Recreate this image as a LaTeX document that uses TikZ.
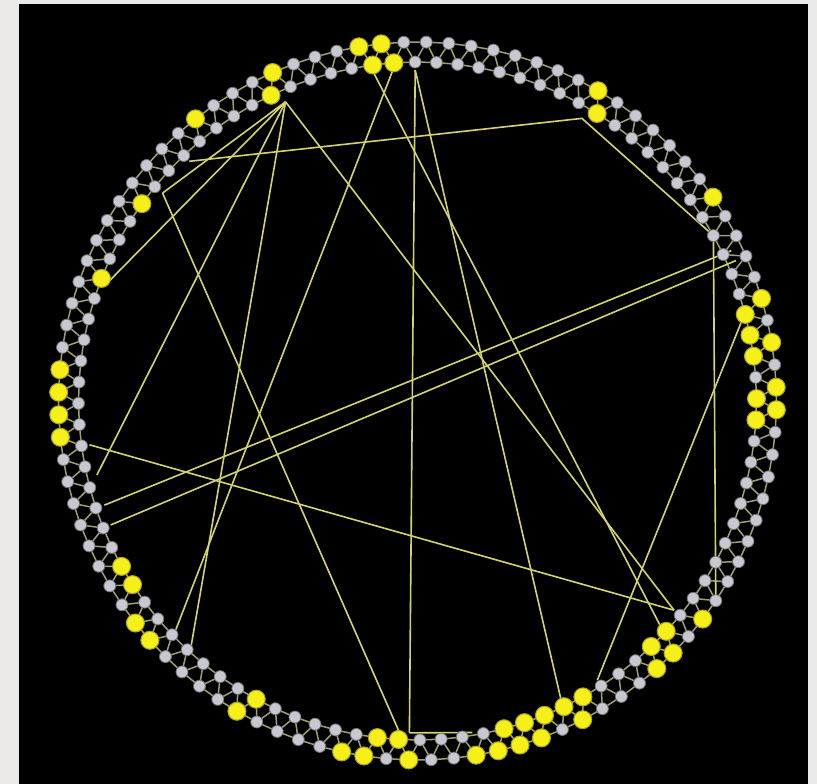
\documentclass[tikz,border=0pt]{standalone}
\usetikzlibrary{calc}
\pgfdeclarelayer{back}
\pgfdeclarelayer{links}
\pgfsetlayers{back,links,main}
\definecolor{bgpaper}{RGB}{236,233,233}
\definecolor{ringedge}{RGB}{160,160,105}
\definecolor{chord}{RGB}{212,212,110}
\definecolor{graynode}{RGB}{200,200,208}
\definecolor{graybord}{RGB}{110,110,118}
\definecolor{yelnode}{RGB}{245,240,25}
\definecolor{yelbord}{RGB}{175,165,20}
\tikzset{
 gnode/.style={circle,fill=graynode,draw=graybord,line width=0.8pt,inner sep=0pt,minimum size=12pt},
 ynode/.style={circle,fill=yelnode,draw=yelbord,line width=1pt,inner sep=0pt,minimum size=18pt},
 ringlink/.style={draw=ringedge,line width=1.5pt},
 chordlink/.style={draw=chord,line width=1.6pt},
}
\begin{document}
\begin{tikzpicture}[x=1pt,y=1pt]
\useasboundingbox (0,0) rectangle (817,784);
\coordinate (C) at (417.5,383);
\begin{pgfonlayer}{back}
\fill[bgpaper] (0,0) rectangle (817,784);
\fill[black] (19,0) rectangle (808,780);
\end{pgfonlayer}
\foreach \y in {0,3,4,5,7,8,18,31,32,51,52,53,54,62,63,70,79,87,96,98,100,102,115,117,120,122,132,133,142,144,145,147,148,154,156,157,158,159,160,161,163,164,165,172,173,174,175,178,197,198,199}{\expandafter\gdef\csname isY\y\endcsname{1}}
\foreach \k in {0,...,199}{
 \pgfmathsetmacro{\ang}{2.2+1.8*\k}
 \ifodd\k \def\rad{339}\else\def\rad{359}\fi
 \ifcsname isY\k\endcsname
   \node[ynode] (n\k) at ($(C)+(\ang:\rad)$) {};
 \else
   \node[gnode] (n\k) at ($(C)+(\ang:\rad)$) {};
 \fi
}
\begin{pgfonlayer}{links}
\foreach \k in {0,...,199}{
 \pgfmathtruncatemacro{\a}{mod(\k+1,200)}
 \pgfmathtruncatemacro{\b}{mod(\k+2,200)}
 \draw[ringlink] (n\k.center) -- (n\a.center);
 \draw[ringlink] (n\k.center) -- (n\b.center);
}
\foreach \u/\ru/\v/\rv [count=\i] in {73/331/32/327, 32/327/15/339, 15/339/180/359, 13/348/109/330, 12/348/111/331, 103/331/177/331, 49/331/148/332, 148/332/154/336, 49/331/163/333, 53/331/175/331, 62/327/177/331, 62/327/106/329, 62/327/125/333, 51/335/123/335, 77/329/147/331, 7/338/167/332, 62/327/87/331, 62/327/77/329}{
 \pgfmathsetmacro{\au}{2.2+1.8*\u}
 \pgfmathsetmacro{\av}{2.2+1.8*\v}
 \coordinate (s\i) at ($(C)+(\au:\ru)$);
 \coordinate (t\i) at ($(C)+(\av:\rv)$);
 \draw[chordlink] (s\i) -- (t\i);
}
\end{pgfonlayer}
\end{tikzpicture}
\end{document}
